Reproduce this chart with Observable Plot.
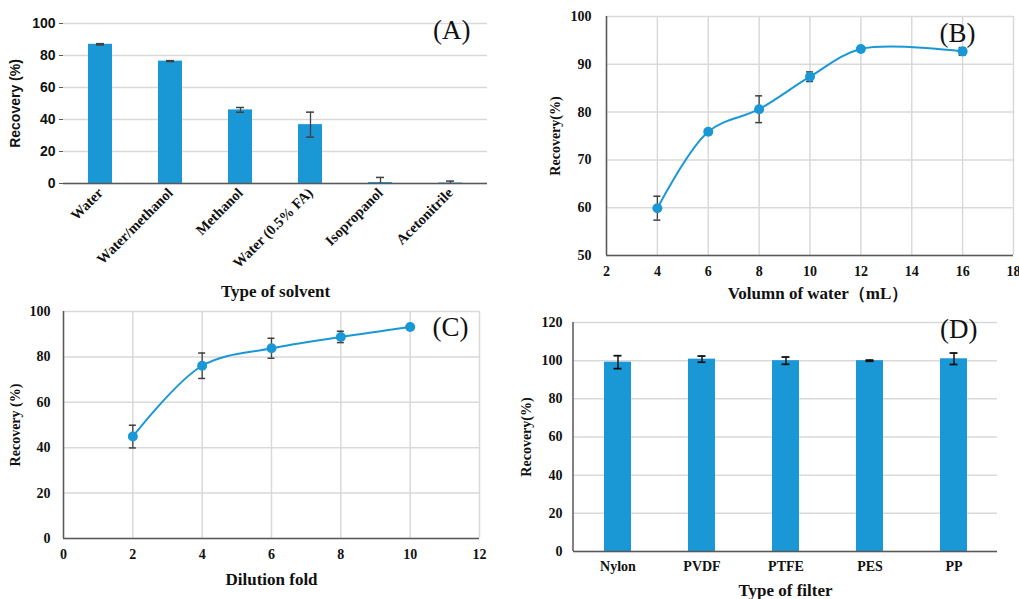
<!DOCTYPE html>
<html><head><meta charset="utf-8">
<script src="https://cdn.jsdelivr.net/npm/d3@7"></script>
<script src="https://cdn.jsdelivr.net/npm/@observablehq/plot@0.6"></script>
<style>
body{margin:0;background:#fff;width:1019px;height:599px;position:relative;overflow:hidden}
.panel{position:absolute}
.panel svg{overflow:visible}
</style></head><body>
<div id="pa" class="panel" style="left:0;top:0"></div>
<div id="pb" class="panel" style="left:500px;top:0"></div>
<div id="pc" class="panel" style="left:0;top:300px"></div>
<div id="pd" class="panel" style="left:500px;top:300px"></div>
<script>
// (A) type of solvent
const solvents = ["Water", "Water/methanol", "Methanol", "Water (0.5% FA)", "Isopropanol", "Acetonitrile"];
const solventRecovery = [87, 76.5, 46, 36.8, 0.6, 0.3];
const solventError = [0.4, 0.3, 1.5, 7.8, 3.2, 1.2];
// (B) volume of water
const waterVolume = [4, 6, 8, 10, 12, 16];
const waterRecovery = [59.9, 75.9, 80.6, 87.4, 93.2, 92.7];
const waterError = [2.5, 0.3, 2.8, 1.0, 0.3, 0.8];
// (C) dilution fold
const dilutionFold = [2, 4, 6, 8, 10];
const dilutionRecovery = [44.9, 76.1, 83.8, 88.8, 93.2];
const dilutionError = [5.0, 5.6, 4.4, 2.5, 0.3];
// (D) type of filter
const filters = ["Nylon", "PVDF", "PTFE", "PES", "PP"];
const filterRecovery = [99.2, 100.8, 100, 100, 101];
const filterError = [3.4, 1.6, 1.9, 0.3, 3.0];

const BLUE = "#1a98d6";
const GRID = "#d9d9d9";
const AXIS = "#595959";
const ERR = "#404040";
const SERIF = "'Liberation Serif', 'Times New Roman', serif";
const SANS = "'Liberation Sans', Arial, sans-serif";

const rows = (xs, ys, es) => xs.map((x, i) => ({x, y: ys[i], lo: ys[i] - es[i], hi: ys[i] + es[i]}));

const letter = (t, dx, dy) => Plot.text([t], {frameAnchor: "top-right", lineAnchor: "top", dx, dy,
  fontSize: 27, fontFamily: SERIF, fontWeight: "normal", fill: "#111"});

// custom mark: vertical axis line along the left edge of the frame
const leftAxisLine = (index, scales, values, dims) => {
  const l = document.createElementNS("http://www.w3.org/2000/svg", "line");
  l.setAttribute("x1", dims.marginLeft); l.setAttribute("x2", dims.marginLeft);
  l.setAttribute("y1", dims.marginTop); l.setAttribute("y2", dims.height - dims.marginBottom);
  l.setAttribute("stroke", AXIS); l.setAttribute("stroke-width", 1.5);
  return l;
};

// Panel A
const dA = rows(solvents, solventRecovery, solventError);
document.getElementById("pa").append(Plot.plot({
  width: 500, height: 300,
  marginLeft: 63, marginRight: 13, marginTop: 23, marginBottom: 117,
  style: {fontFamily: SERIF, fontSize: "14px", fontWeight: "bold", color: "#111", background: "transparent"},
  x: {domain: solvents, paddingInner: 0.66, paddingOuter: 0.33},
  y: {domain: [0, 100]},
  marks: [
    Plot.gridY({ticks: [0, 20, 40, 60, 80, 100], stroke: GRID, strokeOpacity: 1, strokeWidth: 1.5}),
    Plot.barY(dA, {x: "x", y: "y", fill: BLUE}),
    Plot.ruleX(dA, {x: "x", y1: "lo", y2: "hi", stroke: ERR, strokeWidth: 1.3, clip: true}),
    Plot.tickY(dA, {x: "x", y: "hi", stroke: ERR, strokeWidth: 1.5, insetLeft: 8, insetRight: 8}),
    Plot.tickY(dA.filter(d => d.lo > 0), {x: "x", y: "lo", stroke: ERR, strokeWidth: 1.5, insetLeft: 8, insetRight: 8}),
    Plot.ruleY([0], {stroke: AXIS, strokeWidth: 1.5}),
    Plot.axisY({ticks: [0, 20, 40, 60, 80, 100], tickSize: 4, tickPadding: 4, stroke: AXIS,
      fontFamily: SANS, fontSize: 14, label: "Recovery (%)", labelAnchor: "center", labelArrow: "none", labelOffset: 53}),
    Plot.axisX({tickSize: 0, tickPadding: 7, tickRotate: -45, fontSize: 14.5, label: null}),
    Plot.text(["Type of solvent"], {frameAnchor: "bottom", dy: 113, lineAnchor: "bottom", fontSize: 17, fontWeight: "bold", fontFamily: SERIF}),
    letter("(A)", -17, -4)
  ]
}));

// Panel B
const dB = rows(waterVolume, waterRecovery, waterError);
document.getElementById("pb").append(Plot.plot({
  width: 519, height: 300,
  marginLeft: 106, marginRight: 6, marginTop: 16, marginBottom: 45,
  style: {fontFamily: SERIF, fontSize: "14px", fontWeight: "bold", color: "#111", background: "transparent"},
  x: {domain: [2, 18]},
  y: {domain: [50, 100]},
  marks: [
    Plot.gridX({ticks: d3.range(2, 19, 2), stroke: GRID, strokeOpacity: 1, strokeWidth: 1.5}),
    Plot.gridY({ticks: d3.range(50, 101, 10), stroke: GRID, strokeOpacity: 1, strokeWidth: 1.5}),
    Plot.ruleY([50], {stroke: AXIS, strokeWidth: 1.5}),
    Plot.ruleX([2], {stroke: AXIS, strokeWidth: 1.5}),
    Plot.line(dB, {x: "x", y: "y", stroke: BLUE, strokeWidth: 2, curve: "catmull-rom"}),
    Plot.ruleX(dB, {x: "x", y1: "lo", y2: "hi", stroke: ERR, strokeWidth: 1.3}),
    Plot.ruleY(dB, {x1: "x", x2: "x", y: "hi", stroke: ERR, strokeWidth: 1.5, insetLeft: -3.5, insetRight: -3.5}),
    Plot.ruleY(dB, {x1: "x", x2: "x", y: "lo", stroke: ERR, strokeWidth: 1.5, insetLeft: -3.5, insetRight: -3.5}),
    Plot.dot(dB, {x: "x", y: "y", fill: BLUE, r: 5}),
    Plot.axisY({ticks: d3.range(50, 101, 10), tickSize: 0, tickPadding: 15,
      label: "Recovery(%)", labelAnchor: "center", labelArrow: "none", labelOffset: 56}),
    Plot.axisX({ticks: d3.range(2, 19, 2), tickSize: 0, tickPadding: 11, label: null}),
    Plot.text(["Volumn of water（mL）"], {frameAnchor: "bottom", dx: 8, dy: 43, lineAnchor: "bottom", fontSize: 17, fontWeight: "bold", fontFamily: SERIF}),
    letter("(B)", -38, 6)
  ]
}));

// Panel C
const dC = rows(dilutionFold, dilutionRecovery, dilutionError);
document.getElementById("pc").append(Plot.plot({
  width: 500, height: 299,
  marginLeft: 63, marginRight: 21, marginTop: 11, marginBottom: 61,
  style: {fontFamily: SERIF, fontSize: "14px", fontWeight: "bold", color: "#111", background: "transparent"},
  x: {domain: [0, 12]},
  y: {domain: [0, 100]},
  marks: [
    Plot.gridX({ticks: d3.range(0, 13, 2), stroke: GRID, strokeOpacity: 1, strokeWidth: 1.5}),
    Plot.gridY({ticks: d3.range(0, 101, 20), stroke: GRID, strokeOpacity: 1, strokeWidth: 1.5}),
    Plot.ruleY([0], {stroke: AXIS, strokeWidth: 1.5}),
    Plot.ruleX([0], {stroke: AXIS, strokeWidth: 1.5}),
    Plot.line(dC, {x: "x", y: "y", stroke: BLUE, strokeWidth: 2, curve: "catmull-rom"}),
    Plot.ruleX(dC, {x: "x", y1: "lo", y2: "hi", stroke: ERR, strokeWidth: 1.3}),
    Plot.ruleY(dC, {x1: "x", x2: "x", y: "hi", stroke: ERR, strokeWidth: 1.5, insetLeft: -3.5, insetRight: -3.5}),
    Plot.ruleY(dC, {x1: "x", x2: "x", y: "lo", stroke: ERR, strokeWidth: 1.5, insetLeft: -3.5, insetRight: -3.5}),
    Plot.dot(dC, {x: "x", y: "y", fill: BLUE, r: 5}),
    Plot.axisY({ticks: d3.range(0, 101, 20), tickSize: 0, tickPadding: 13,
      label: "Recovery (%)", labelAnchor: "center", labelArrow: "none", labelOffset: 53}),
    Plot.axisX({ticks: d3.range(0, 13, 2), tickSize: 0, tickPadding: 11, label: null}),
    Plot.text(["Dilution fold"], {frameAnchor: "bottom", dy: 46, lineAnchor: "bottom", fontSize: 17, fontWeight: "bold", fontFamily: SERIF}),
    letter("(C)", -11, 5)
  ]
}));

// Panel D
const dD = rows(filters, filterRecovery, filterError);
document.getElementById("pd").append(Plot.plot({
  width: 519, height: 299,
  marginLeft: 73, marginRight: 22, marginTop: 22, marginBottom: 48,
  style: {fontFamily: SERIF, fontSize: "14px", fontWeight: "bold", color: "#111", background: "transparent"},
  x: {domain: filters, paddingInner: 0.68, paddingOuter: 0.34},
  y: {domain: [0, 120]},
  marks: [
    Plot.gridY({ticks: d3.range(0, 121, 20), stroke: GRID, strokeOpacity: 1, strokeWidth: 1.5}),
    Plot.barY(dD, {x: "x", y: "y", fill: BLUE}),
    Plot.ruleX(dD, {x: "x", y1: "lo", y2: "hi", stroke: "#111", strokeWidth: 1.5}),
    Plot.tickY(dD, {x: "x", y: "hi", stroke: "#111", strokeWidth: 1.8, insetLeft: 9.5, insetRight: 9.5}),
    Plot.tickY(dD, {x: "x", y: "lo", stroke: "#111", strokeWidth: 1.8, insetLeft: 9.5, insetRight: 9.5}),
    Plot.ruleY([0], {stroke: AXIS, strokeWidth: 1.5}),
    leftAxisLine,
    Plot.axisY({ticks: d3.range(0, 121, 20), tickSize: 0, tickPadding: 11,
      label: "Recovery(%)", labelAnchor: "center", labelArrow: "none", labelOffset: 52}),
    Plot.axisX({tickSize: 0, tickPadding: 10, label: null}),
    Plot.text(["Type of filter"], {frameAnchor: "bottom", dy: 44, lineAnchor: "bottom", fontSize: 17, fontWeight: "bold", fontFamily: SERIF}),
    letter("(D)", -20, -4)
  ]
}));
</script>
</body></html>
